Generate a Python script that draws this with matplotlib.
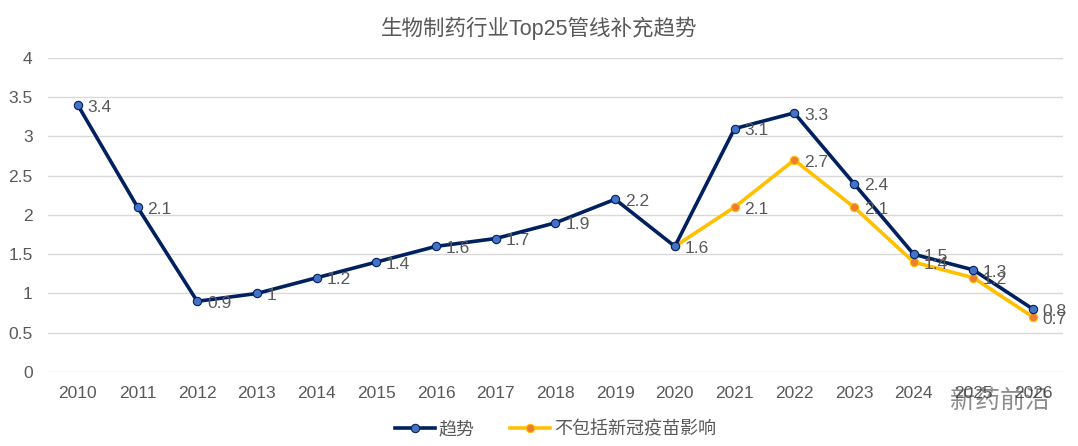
import matplotlib
matplotlib.use("Agg")
import matplotlib.pyplot as plt
import numpy as np

plt.rcParams["font.family"] = ["Liberation Sans", "Noto Sans CJK SC", "DejaVu Sans"]

# data
years = ["2010", "2011", "2012", "2013", "2014", "2015", "2016", "2017", "2018",
         "2019", "2020", "2021", "2022", "2023", "2024", "2025", "2026"]
trend = [3.4, 2.1, 0.9, 1.0, 1.2, 1.4, 1.6, 1.7, 1.9, 2.2, 1.6, 3.1, 3.3, 2.4, 1.5, 1.3, 0.8]
ex_covid_years = ["2020", "2021", "2022", "2023", "2024", "2025", "2026"]
ex_covid = [1.6, 2.1, 2.7, 2.1, 1.4, 1.2, 0.7]

TEXT = "#595959"
NAVY = "#002060"
BLUE = "#4472C4"
GOLD = "#FFC000"
ORANGE = "#ED7D31"

fig = plt.figure(figsize=(10.78, 4.46), dpi=100)
ax = fig.add_axes([0.0445, 0.166, 0.9415, 0.704])

x = np.arange(len(years))
x2 = np.array([years.index(y) for y in ex_covid_years])

ax.plot(x, trend, color=NAVY, lw=2.6, marker="o", ms=6, mfc=BLUE, mec=NAVY,
        mew=0.8, label="趋势", zorder=3)
ax.plot(x2, ex_covid, color=GOLD, lw=2.6, marker="o", ms=6, mfc=ORANGE, mec=GOLD,
        mew=0.8, label="不包括新冠疫苗影响", zorder=2)

def fmt(v):
    return f"{v:g}"

for xi, v in zip(x, trend):
    ax.annotate(fmt(v), (xi, v), xytext=(7, -1.5), textcoords="offset points",
                ha="left", va="center", fontsize=12.5, color=TEXT, zorder=4)
for xi, v in zip(x2, ex_covid):
    if xi == years.index("2020"):
        continue
    ax.annotate(fmt(v), (xi, v), xytext=(7, -1.5), textcoords="offset points",
                ha="left", va="center", fontsize=12.5, color=TEXT, zorder=4)

ax.set_xlim(-0.5, len(years) - 0.5)
ax.set_ylim(0, 4)
ax.set_yticks(np.arange(0, 4.01, 0.5))
ax.set_yticklabels([fmt(v) for v in np.arange(0, 4.01, 0.5)])
ax.set_xticks(x)
ax.set_xticklabels(years)
ax.tick_params(axis="both", length=0, labelsize=12.5, colors=TEXT)
ax.tick_params(axis="x", pad=10)
ax.tick_params(axis="y", pad=11)
ax.grid(axis="y", color="#D9D9D9", lw=1)
ax.set_axisbelow(True)
for s in ax.spines.values():
    s.set_visible(False)

fig.text(0.5, 0.937, "生物制药行业Top25管线补充趋势", ha="center", va="center",
         fontsize=15.5, color=TEXT)

ax.legend(loc="center", bbox_to_anchor=(0.5, -0.185), ncol=2, frameon=False,
          fontsize=13, labelcolor=TEXT, handlelength=2.2, handletextpad=0.2,
          columnspacing=2.0)

# watermark
fig.text(0.928, 0.10, "新药前沿", ha="center", va="center", fontsize=18,
         color="#404040", alpha=0.6)

fig.savefig("out.png", dpi=100, facecolor="white")
